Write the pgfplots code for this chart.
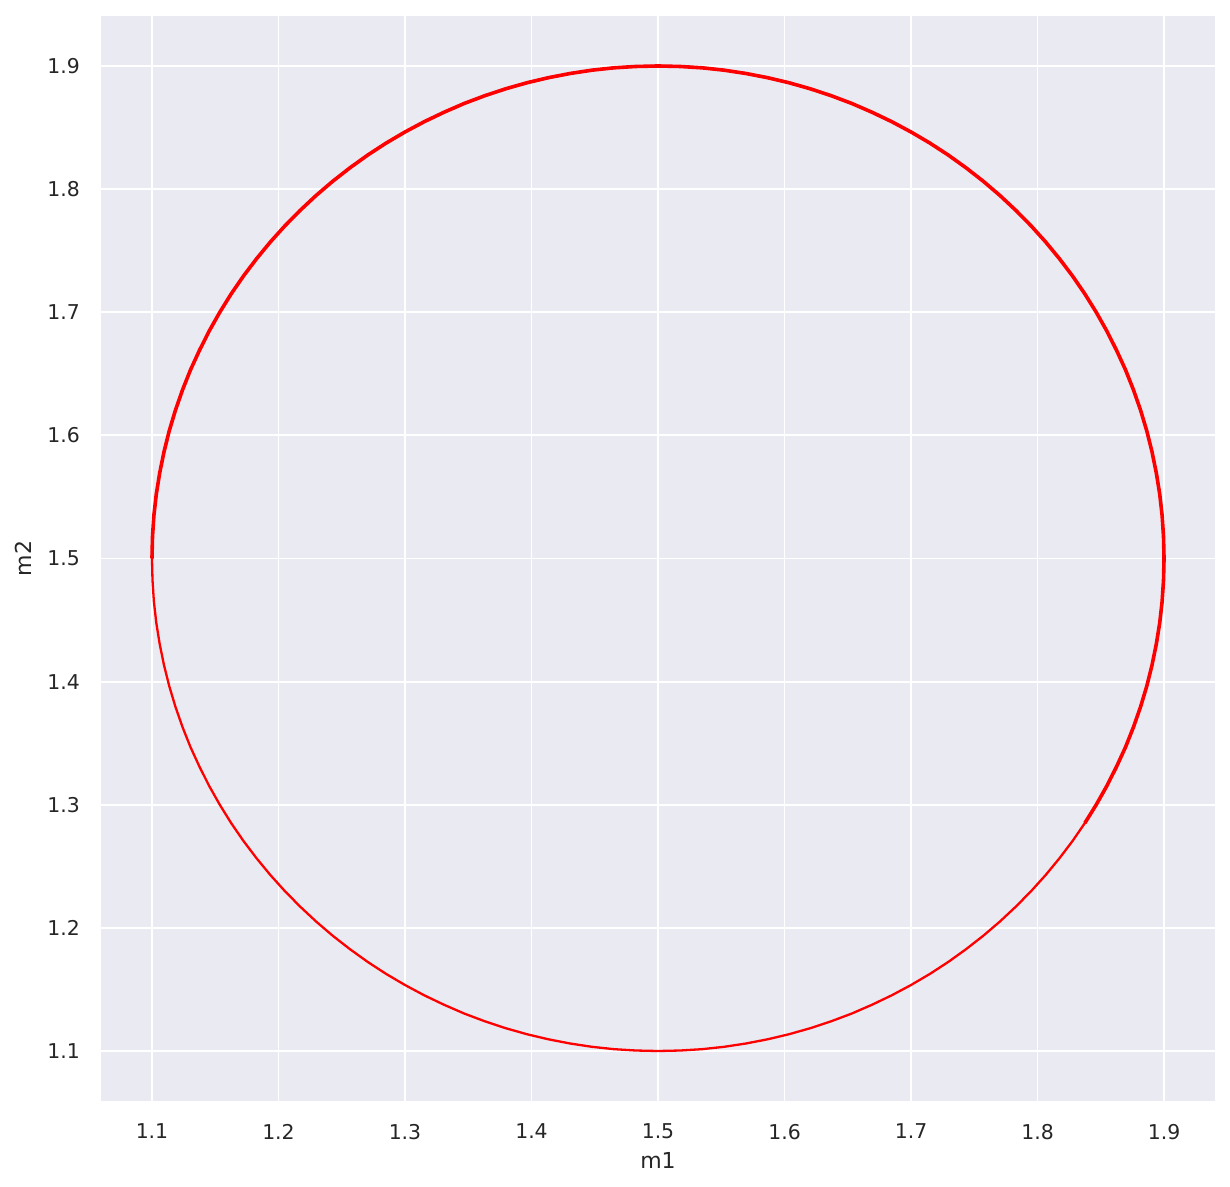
\documentclass[border=0pt]{standalone}
\usepackage{fontspec}
\setmainfont{DejaVu Sans}
\usepackage{pgfplots}
\pgfplotsset{compat=1.18}
\definecolor{sbbg}{HTML}{EAEAF2}
\definecolor{sbtext}{HTML}{262626}

\begin{document}
\begin{tikzpicture}
\begin{axis}[
  scale only axis,
  width=557pt, height=542.5pt,
  xmin=1.0597, xmax=1.9403,
  ymin=1.0594, ymax=1.9406,
  xtick={1.1,1.2,...,1.91}, ytick={1.1,1.2,...,1.91},
  /pgf/number format/assume math mode=true,
  /pgf/number format/fixed, /pgf/number format/precision=1,
  /pgf/number format/fixed zerofill,
  tick label style={font=\fontsize{10.2}{11}\selectfont, text=sbtext},
  xticklabel style={yshift=-8pt},
  yticklabel style={xshift=-7pt},
  label style={font=\fontsize{11}{13}\selectfont, text=sbtext},
  xlabel={m1}, ylabel={m2},
  xlabel style={yshift=0.5pt},
  ylabel style={yshift=1.1pt},
  axis background/.style={fill=sbbg},
  axis line style={draw=none},
  major tick length=0pt,
  grid=major,
  major grid style={white, line width=0.95pt},
  every axis plot/.append style={line join=round},
]
% full circle, thin (every 2.5 degrees)
\addplot[red, line width=1.15pt] coordinates {
(1.1000,1.5000) (1.1004,1.4825) (1.1015,1.4651) (1.1034,1.4478) (1.1061,1.4305) (1.1095,1.4134)
(1.1136,1.3965) (1.1185,1.3797) (1.1241,1.3632) (1.1304,1.3469) (1.1375,1.3310) (1.1452,1.3153)
(1.1536,1.3000) (1.1626,1.2851) (1.1723,1.2706) (1.1827,1.2565) (1.1936,1.2429) (1.2051,1.2298)
(1.2172,1.2172) (1.2298,1.2051) (1.2429,1.1936) (1.2565,1.1827) (1.2706,1.1723) (1.2851,1.1626)
(1.3000,1.1536) (1.3153,1.1452) (1.3310,1.1375) (1.3469,1.1304) (1.3632,1.1241) (1.3797,1.1185)
(1.3965,1.1136) (1.4134,1.1095) (1.4305,1.1061) (1.4478,1.1034) (1.4651,1.1015) (1.4825,1.1004)
(1.5000,1.1000) (1.5175,1.1004) (1.5349,1.1015) (1.5522,1.1034) (1.5695,1.1061) (1.5866,1.1095)
(1.6035,1.1136) (1.6203,1.1185) (1.6368,1.1241) (1.6531,1.1304) (1.6690,1.1375) (1.6847,1.1452)
(1.7000,1.1536) (1.7149,1.1626) (1.7294,1.1723) (1.7435,1.1827) (1.7571,1.1936) (1.7702,1.2051)
(1.7828,1.2172) (1.7949,1.2298) (1.8064,1.2429) (1.8173,1.2565) (1.8277,1.2706) (1.8374,1.2851)
(1.8464,1.3000) (1.8548,1.3153) (1.8625,1.3310) (1.8696,1.3469) (1.8759,1.3632) (1.8815,1.3797)
(1.8864,1.3965) (1.8905,1.4134) (1.8939,1.4305) (1.8966,1.4478) (1.8985,1.4651) (1.8996,1.4825)
(1.9000,1.5000) (1.8996,1.5175) (1.8985,1.5349) (1.8966,1.5522) (1.8939,1.5695) (1.8905,1.5866)
(1.8864,1.6035) (1.8815,1.6203) (1.8759,1.6368) (1.8696,1.6531) (1.8625,1.6690) (1.8548,1.6847)
(1.8464,1.7000) (1.8374,1.7149) (1.8277,1.7294) (1.8173,1.7435) (1.8064,1.7571) (1.7949,1.7702)
(1.7828,1.7828) (1.7702,1.7949) (1.7571,1.8064) (1.7435,1.8173) (1.7294,1.8277) (1.7149,1.8374)
(1.7000,1.8464) (1.6847,1.8548) (1.6690,1.8625) (1.6531,1.8696) (1.6368,1.8759) (1.6203,1.8815)
(1.6035,1.8864) (1.5866,1.8905) (1.5695,1.8939) (1.5522,1.8966) (1.5349,1.8985) (1.5175,1.8996)
(1.5000,1.9000) (1.4825,1.8996) (1.4651,1.8985) (1.4478,1.8966) (1.4305,1.8939) (1.4134,1.8905)
(1.3965,1.8864) (1.3797,1.8815) (1.3632,1.8759) (1.3469,1.8696) (1.3310,1.8625) (1.3153,1.8548)
(1.3000,1.8464) (1.2851,1.8374) (1.2706,1.8277) (1.2565,1.8173) (1.2429,1.8064) (1.2298,1.7949)
(1.2172,1.7828) (1.2051,1.7702) (1.1936,1.7571) (1.1827,1.7435) (1.1723,1.7294) (1.1626,1.7149)
(1.1536,1.7000) (1.1452,1.6847) (1.1375,1.6690) (1.1304,1.6531) (1.1241,1.6368) (1.1185,1.6203)
(1.1136,1.6035) (1.1095,1.5866) (1.1061,1.5695) (1.1034,1.5522) (1.1015,1.5349) (1.1004,1.5175)
(1.1000,1.5000)
};
% second pass over the upper arc, appears thicker
\addplot[red, line width=1.8pt] coordinates {
(1.8374,1.2851)
(1.8464,1.3000) (1.8548,1.3153) (1.8625,1.3310) (1.8696,1.3469) (1.8759,1.3632) (1.8815,1.3797)
(1.8864,1.3965) (1.8905,1.4134) (1.8939,1.4305) (1.8966,1.4478) (1.8985,1.4651) (1.8996,1.4825)
(1.9000,1.5000) (1.8996,1.5175) (1.8985,1.5349) (1.8966,1.5522) (1.8939,1.5695) (1.8905,1.5866)
(1.8864,1.6035) (1.8815,1.6203) (1.8759,1.6368) (1.8696,1.6531) (1.8625,1.6690) (1.8548,1.6847)
(1.8464,1.7000) (1.8374,1.7149) (1.8277,1.7294) (1.8173,1.7435) (1.8064,1.7571) (1.7949,1.7702)
(1.7828,1.7828) (1.7702,1.7949) (1.7571,1.8064) (1.7435,1.8173) (1.7294,1.8277) (1.7149,1.8374)
(1.7000,1.8464) (1.6847,1.8548) (1.6690,1.8625) (1.6531,1.8696) (1.6368,1.8759) (1.6203,1.8815)
(1.6035,1.8864) (1.5866,1.8905) (1.5695,1.8939) (1.5522,1.8966) (1.5349,1.8985) (1.5175,1.8996)
(1.5000,1.9000) (1.4825,1.8996) (1.4651,1.8985) (1.4478,1.8966) (1.4305,1.8939) (1.4134,1.8905)
(1.3965,1.8864) (1.3797,1.8815) (1.3632,1.8759) (1.3469,1.8696) (1.3310,1.8625) (1.3153,1.8548)
(1.3000,1.8464) (1.2851,1.8374) (1.2706,1.8277) (1.2565,1.8173) (1.2429,1.8064) (1.2298,1.7949)
(1.2172,1.7828) (1.2051,1.7702) (1.1936,1.7571) (1.1827,1.7435) (1.1723,1.7294) (1.1626,1.7149)
(1.1536,1.7000) (1.1452,1.6847) (1.1375,1.6690) (1.1304,1.6531) (1.1241,1.6368) (1.1185,1.6203)
(1.1136,1.6035) (1.1095,1.5866) (1.1061,1.5695) (1.1034,1.5522) (1.1015,1.5349) (1.1004,1.5175)
(1.1000,1.5000)
};
\end{axis}
\path (current axis.north east) ++(7.5pt,8pt);
\path (current axis.south west) ++(-50.5pt,-43pt);
\end{tikzpicture}
\end{document}
